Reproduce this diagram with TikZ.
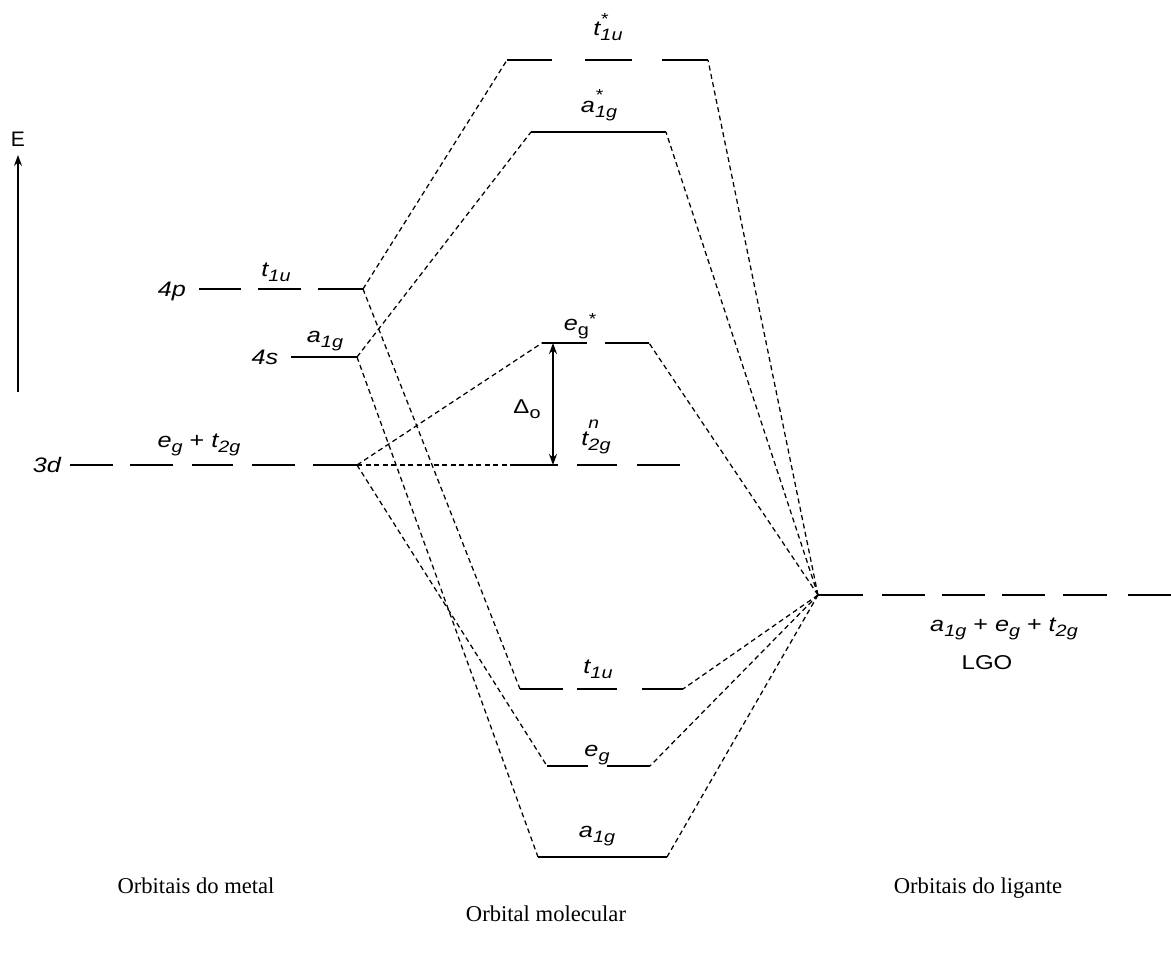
\documentclass[tikz,border=0pt]{standalone}
\usepackage{fontspec}
\usepackage{graphicx}
\setmainfont{Liberation Serif}
\newfontfamily\hv{Liberation Sans}
\usetikzlibrary{arrows.meta}
\newcommand\dn[1]{\raisebox{-0.28em}{\fontsize{16.5}{17}\selectfont #1}}
\newcommand\upr[2]{\raisebox{#1}{\fontsize{16}{17}\selectfont #2}}
\newcommand\ud[3]{\rlap{\upr{#1}{#2}}\dn{#3}}
\newcommand\lbl[1]{\scalebox{1.2}[1]{\hv\fontsize{21}{23}\selectfont\itshape #1}}
\newcommand\ulbl[1]{\scalebox{1.2}[1]{\hv\fontsize{20}{22}\selectfont #1}}
\begin{document}
\begin{tikzpicture}[x=1pt,y=-1pt,
 lev/.style={line width=1.5pt},
 con/.style={line width=1.25pt, dash pattern=on 5pt off 3.5pt},
 lab/.style={inner sep=0pt, anchor=base},
 capt/.style={font=\fontsize{22.6}{26}\selectfont, inner sep=0pt, anchor=base},
 arr/.style={line width=1.2pt, -{Stealth[length=11pt,width=8pt]}}]
\useasboundingbox (0,0) rectangle (1171,956);

% ---------- energy axis
\coordinate (Ebot) at (18,392);
\coordinate (Etop) at (18,155);
\draw[arr] (Ebot) -- (Etop);
\node[lab] (Elab) at (18,146) {\hv\fontsize{21}{22}\selectfont E};

% ---------- metal levels
\draw[lev] (199,289)--(241,289) (258,289)--(301,289) (318,289)--(363,289);
\coordinate (p4) at (363,289);
\node[lab] (l4p) at (172,296) {\lbl{4p}};
\node[lab] (lt1u) at (276,276) {\lbl{t\dn{1u}}};

\draw[lev] (291,357)--(357,357);
\coordinate (s4) at (357,357);
\node[lab] (l4s) at (265,364) {\lbl{4s}};
\node[lab] (la1g) at (325,342) {\lbl{a\dn{1g}}};

\draw[lev] (70,465)--(113,465) (130,465)--(173,465) (192,465)--(233,465) (252,465)--(295,465) (313,465)--(357,465);
\coordinate (d3) at (357,465);
\node[lab] (l3d) at (47,472) {\lbl{3d}};
\node[lab] (legt) at (199,447) {\lbl{e\dn{g} {\upshape +} t\dn{2g}}};

% ---------- molecular levels
\draw[lev] (507,60)--(552,60) (585,60)--(632,60) (662,60)--(708,60);
\coordinate (t1sL) at (507,60); \coordinate (t1sR) at (708,60);
\node[lab] (lt1s) at (608,35) {\lbl{t\ud{0.5em}{*}{1u}}};

\draw[lev] (531,132)--(666,132);
\coordinate (a1sL) at (531,132); \coordinate (a1sR) at (666,132);
\node[lab] (la1s) at (599,112) {\lbl{a\ud{0.55em}{*}{1g}}};

\draw[lev] (542,343)--(587,343) (605,343)--(649,343);
\coordinate (egsL) at (542,343); \coordinate (egsR) at (649,343);
\node[lab] (legs) at (580,330) {\lbl{e\dn{\upshape g}\upr{0.25em}{\upshape *}}};

\draw[lev] (514,465)--(558,465) (577,465)--(617,465) (637,465)--(680,465);
\coordinate (t2L) at (514,465);
\node[lab] (lt2) at (596,445) {\lbl{t\ud{0.8em}{n}{2g}}};

\coordinate (dA) at (553,343); \coordinate (dB) at (553,465);
\draw[line width=1.2pt, {Stealth[length=11pt,width=8pt]}-{Stealth[length=11pt,width=8pt]}] (dA) -- (dB);
\node[lab] (ldel) at (527,413) {\ulbl{Δ\dn{o}}};

\draw[lev] (520,689)--(563,689) (577,689)--(617,689) (642,689)--(683,689);
\coordinate (t1L) at (520,689); \coordinate (t1R) at (683,689);
\node[lab] (lt1b) at (598,673) {\lbl{t\dn{1u}}};

\draw[lev] (547,766)--(588,766) (607,766)--(650,766);
\coordinate (egL) at (547,766); \coordinate (egR) at (650,766);
\node[lab] (legb) at (597,756) {\lbl{e\dn{g}}};

\draw[lev] (538,857)--(667,857);
\coordinate (a1L) at (538,857); \coordinate (a1R) at (667,857);
\node[lab] (la1b) at (597,837) {\lbl{a\dn{1g}}};

% ---------- ligand levels
\draw[lev] (818,595)--(863,595) (882,595)--(925,595) (942,595)--(985,595) (1002,595)--(1045,595) (1063,595)--(1107,595) (1128,595)--(1171,595);
\coordinate (lgo) at (818,595);
\node[lab] (llgo) at (1004,631) {\lbl{a\dn{1g} {\upshape +} e\dn{g} {\upshape +} t\dn{2g}}};
\node[lab] (llgo2) at (987,669) {\ulbl{LGO}};

% ---------- connectors
\draw[con] (p4) -- (t1sL);
\draw[con] (p4) -- (t1L);
\draw[con] (s4) -- (a1sL);
\draw[con] (s4) -- (a1L);
\draw[con] (d3) -- (egsL);
\draw[con] (d3) -- (t2L);
\draw[con] (d3) -- (egL);
\draw[con] (lgo) -- (t1sR);
\draw[con] (lgo) -- (a1sR);
\draw[con] (lgo) -- (egsR);
\draw[con] (lgo) -- (t1R);
\draw[con] (lgo) -- (egR);
\draw[con] (lgo) -- (a1R);

% ---------- captions
\node[capt] (cm) at (196,893) {Orbitais do metal};
\node[capt] (cl) at (978,893) {Orbitais do ligante};
\node[capt] (cmo) at (546,921) {Orbital molecular};
\end{tikzpicture}
\end{document}
